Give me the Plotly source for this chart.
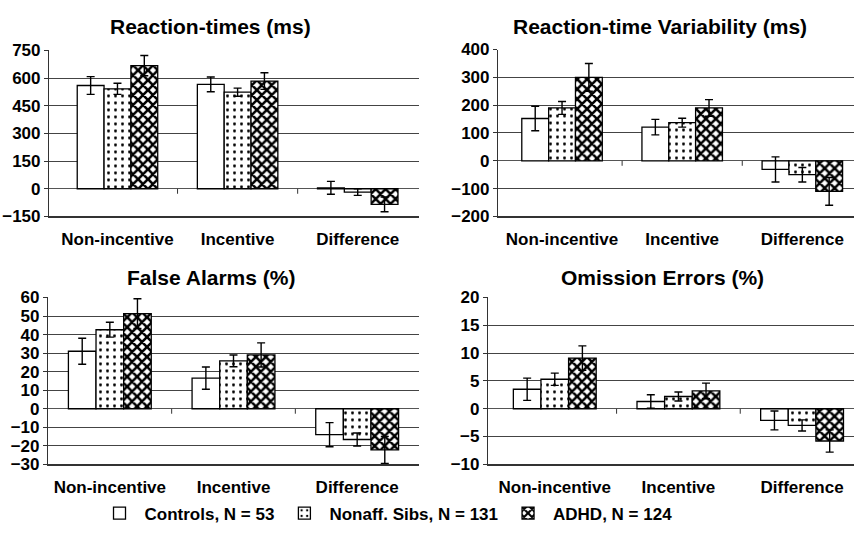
import plotly.graph_objects as go

categories = ["Non-incentive", "Incentive", "Difference"]
groups = ["Controls, N = 53", "Nonaff. Sibs, N = 131", "ADHD, N = 124"]

# Reaction-times (ms)
rt_controls = [560, 566, 5]
rt_sibs = [542, 524, -18]
rt_adhd = [668, 584, -85]
rt_controls_err = [48, 40, 35]
rt_sibs_err = [30, 22, 18]
rt_adhd_err = [55, 45, 40]

# Reaction-time Variability (ms)
rtv_controls = [152, 121, -31]
rtv_sibs = [190, 137, -50]
rtv_adhd = [300, 190, -110]
rtv_controls_err = [44, 28, 45]
rtv_sibs_err = [23, 16, 26]
rtv_adhd_err = [50, 30, 50]

# False Alarms (%)
fa_controls = [31, 16.5, -14]
fa_sibs = [42.6, 25.8, -16.6]
fa_adhd = [51.3, 29, -22.2]
fa_controls_err = [7, 6, 6.5]
fa_sibs_err = [4, 3.2, 3.5]
fa_adhd_err = [8, 6.5, 7.3]

# Omission Errors (%)
oe_controls = [3.5, 1.3, -2.1]
oe_sibs = [5.3, 2.2, -3.0]
oe_adhd = [9.1, 3.2, -5.8]
oe_controls_err = [2.0, 1.2, 1.7]
oe_sibs_err = [1.1, 0.8, 1.0]
oe_adhd_err = [2.2, 1.4, 2.0]

titles = ["Reaction-times (ms)", "Reaction-time Variability (ms)",
          "False Alarms (%)", "Omission Errors (%)"]
ytick_vals = [
    [-150, 0, 150, 300, 450, 600, 750],
    [-200, -100, 0, 100, 200, 300, 400],
    [-30, -20, -10, 0, 10, 20, 30, 40, 50, 60],
    [-10, -5, 0, 5, 10, 15, 20],
]

panels = [
    (rt_controls, rt_sibs, rt_adhd, rt_controls_err, rt_sibs_err, rt_adhd_err),
    (rtv_controls, rtv_sibs, rtv_adhd, rtv_controls_err, rtv_sibs_err, rtv_adhd_err),
    (fa_controls, fa_sibs, fa_adhd, fa_controls_err, fa_sibs_err, fa_adhd_err),
    (oe_controls, oe_sibs, oe_adhd, oe_controls_err, oe_sibs_err, oe_adhd_err),
]

W, H = 854, 539
FONT = "Liberation Sans, Arial, sans-serif"

# layout geometry (pixels)
xdom_px = [(49, 419), (498, 854), (48, 419), (488, 854)]
ydom_px = [(43, 215), (42, 215), (299, 472), (299, 472)]
xranges = [[-0.57, 2.51], [-0.533, 2.43], [-0.5, 2.5], [-0.54, 2.42]]
title_pos = [(210, 18), (660, 18), (211, 278), (662, 278)]

patterns = [
    dict(shape=""),
    dict(shape=".", size=7, solidity=0.14, fgcolor="black", bgcolor="white", fgopacity=1),
    dict(shape="x", size=7, solidity=0.6, fgcolor="black", bgcolor="white", fgopacity=1),
]

fig = go.Figure()
for i, p in enumerate(panels):
    vals = p[:3]
    errs = p[3:]
    ax = "" if i == 0 else str(i + 1)
    for g in range(3):
        fig.add_trace(go.Bar(
            x=categories, y=vals[g], name=groups[g],
            xaxis="x" + ax, yaxis="y" + ax,
            marker=dict(color="white", line=dict(color="black", width=1.3),
                        pattern=patterns[g]),
            error_y=dict(type="data", array=errs[g], color="black",
                         thickness=1.4, width=4),
            showlegend=(i == 0), legendgroup=groups[g],
        ))
    xd = xdom_px[i]
    yd = ydom_px[i]
    fig.layout["xaxis" + ax] = dict(
        domain=[xd[0] / W, xd[1] / W], range=xranges[i],
        anchor="y" + ax, showline=True, linecolor="#333", linewidth=1.5,
        ticks="", tickfont=dict(family=FONT, size=17, color="black", weight="bold"),
        ticklabelstandoff=6, showgrid=False, fixedrange=True,
    )
    fig.layout["yaxis" + ax] = dict(
        domain=[1 - yd[1] / H, 1 - yd[0] / H],
        range=[ytick_vals[i][0], ytick_vals[i][-1]],
        anchor="x" + ax, tickvals=ytick_vals[i],
        ticktext=[("\u2212" + str(-v)) if v < 0 else str(v) for v in ytick_vals[i]],
        showline=True, linecolor="#333", linewidth=1.2,
        ticks="outside", ticklen=4, tickcolor="#333",
        showgrid=True, gridcolor="#444", gridwidth=1,
        zeroline=True, zerolinecolor="#555", zerolinewidth=1,
        tickfont=dict(family=FONT, size=17, color="black", weight="bold"),
        fixedrange=True,
    )
    fig.add_annotation(
        x=title_pos[i][0] / W, y=1 - title_pos[i][1] / H, xref="paper", yref="paper",
        text="<b>" + titles[i] + "</b>", showarrow=False,
        font=dict(family=FONT, size=21, color="black"),
        xanchor="center", yanchor="middle",
    )
    for b in [0.5, 1.5]:
        fig.add_shape(type="line", xref="x" + ax, yref="y" + ax,
                      x0=b, x1=b, ysizemode="pixel", yanchor=0, y0=0, y1=-5,
                      line=dict(color="#333", width=1))

fig.update_layout(
    width=W, height=H, margin=dict(l=0, r=0, t=0, b=0),
    paper_bgcolor="white", plot_bgcolor="white",
    barmode="group", bargap=0.33, bargroupgap=0,
    font=dict(family=FONT, size=17, color="black"),
    legend=dict(orientation="h", x=0.452, xanchor="center", y=1 - 523 / H,
                yanchor="middle",
                font=dict(family=FONT, size=17, color="black", weight="bold"),
                itemwidth=40, traceorder="normal", bgcolor="rgba(0,0,0,0)"),
)

fig.write_html("out.html")
